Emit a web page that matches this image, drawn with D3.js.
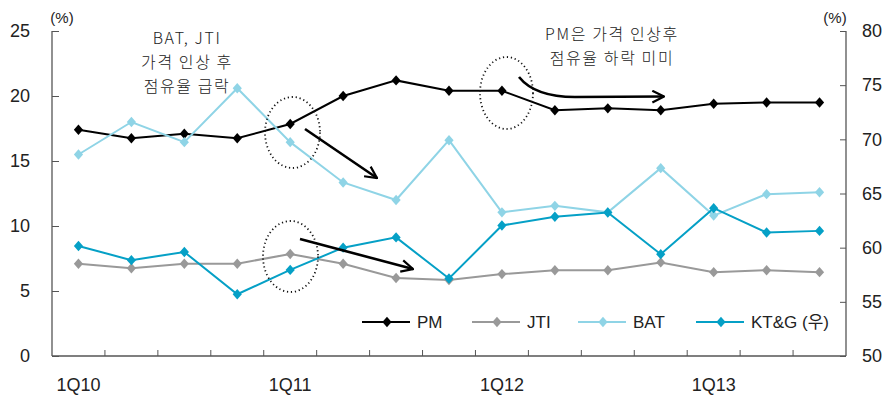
<!DOCTYPE html>
<html><head><meta charset="utf-8">
<script src="https://cdn.jsdelivr.net/npm/d3@7"></script>
<style>
body{margin:0;background:#fff;}
text{font-family:"Liberation Sans","Noto Sans CJK KR",Arial,sans-serif;fill:#222;}
</style></head>
<body><svg id="c" width="892" height="397"></svg>
<script>
const categories = ["1Q10","2Q10","3Q10","4Q10","1Q11","2Q11","3Q11","4Q11","1Q12","2Q12","3Q12","4Q12","1Q13","2Q13","3Q13"];
const tickLabels = ["1Q10","1Q11","1Q12","1Q13"];
const leftTicks = [0,5,10,15,20,25];
const rightTicks = [50,55,60,65,70,75,80];
const pm   = [17.4,16.75,17.1,16.75,17.85,20.0,21.2,20.4,20.4,18.9,19.05,18.9,19.4,19.5,19.5];
const jti  = [7.1,6.75,7.1,7.1,7.85,7.1,6.0,5.85,6.3,6.6,6.6,7.2,6.45,6.6,6.45];
const bat  = [15.5,18.0,16.45,20.6,16.45,13.35,12.0,16.6,11.05,11.55,11.05,14.45,10.8,12.45,12.6];
const ktg  = [60.15,58.85,59.6,55.7,57.95,60.0,60.95,57.15,62.05,62.85,63.25,59.4,63.65,61.4,61.55];
const seriesNames = ["PM","JTI","BAT","KT&G (우)"];
const seriesColors = ["#000000","#999999","#8fd4e6","#05a0c6"];

const svg = d3.select("#c");
const L = 52, R = 846, T = 31, B = 356;
const x = d3.scaleBand().domain(categories).range([L,R]).padding(0);
const yL = d3.scaleLinear().domain([0,25]).range([B,T]);
const yR = d3.scaleLinear().domain([50,80]).range([B,T]);
const cx = c => x(c) + x.bandwidth()/2;
const axisColor = "#555";

const gl = svg.append("g").attr("transform",`translate(${L},0)`)
  .call(d3.axisLeft(yL).tickValues(leftTicks).tickSize(-7).tickPadding(22).tickFormat(d3.format("d")));
const gr = svg.append("g").attr("transform",`translate(${R},0)`)
  .call(d3.axisRight(yR).tickValues(rightTicks).tickSize(-6).tickPadding(16).tickFormat(d3.format("d")));
const gb = svg.append("g").attr("transform",`translate(0,${B})`);
gb.append("line").attr("x1",L).attr("x2",R).attr("stroke",axisColor).attr("stroke-width",1.3);
gb.selectAll("line.t").data(categories.slice(1)).join("line").attr("class","t")
  .attr("x1",d=>x(d)).attr("x2",d=>x(d)).attr("y1",0).attr("y2",-6).attr("stroke",axisColor).attr("stroke-width",1);
gb.selectAll("text").data(tickLabels).join("text")
  .attr("x",d=>cx(d)).attr("y",35).attr("text-anchor","middle").style("font-size","18px").text(d=>d);

[gl,gr].forEach(g=>{
  g.select(".domain").attr("stroke",axisColor).attr("stroke-width",1.3).attr("d",`M0,${T}V${B}`);
  g.selectAll(".tick line").attr("stroke",axisColor).attr("stroke-width",1);
  g.selectAll(".tick text").style("font-size","18px").attr("fill","#222").style("font-family",'"Liberation Sans",Arial,sans-serif');
});
gl.selectAll(".tick text").attr("x",-22);

svg.append("text").attr("x",62).attr("y",23).attr("text-anchor","middle").style("font-size","15px").text("(%)");
svg.append("text").attr("x",835).attr("y",23).attr("text-anchor","middle").style("font-size","15px").text("(%)");

const diamond = "M0,-5.2L4.6,0L0,5.2L-4.6,0Z";
const series = [
  {vals:pm, y:yL},{vals:jti, y:yL},{vals:bat, y:yL},{vals:ktg, y:yR}
];
series.forEach((s,i)=>{
  const line = d3.line().x((d,j)=>cx(categories[j])).y(d=>s.y(d));
  svg.append("path").datum(s.vals).attr("d",line).attr("fill","none")
    .attr("stroke",seriesColors[i]).attr("stroke-width",2);
  svg.append("g").selectAll("path").data(s.vals).join("path")
    .attr("d",diamond).attr("fill",seriesColors[i])
    .attr("transform",(d,j)=>`translate(${cx(categories[j])},${s.y(d)})`);
});

const legX = [362,472,578,696], legY = 322;
seriesNames.forEach((n,i)=>{
  const g = svg.append("g").attr("transform",`translate(${legX[i]},${legY})`);
  g.append("line").attr("x1",0).attr("x2",48).attr("stroke",seriesColors[i]).attr("stroke-width",2);
  g.append("path").attr("d",diamond).attr("transform","translate(25,0)").attr("fill",seriesColors[i]);
  g.append("text").attr("x",55).attr("y",6).style("font-size","17px").text(n);
});

const annoFont = '"Noto Sans CJK KR","Liberation Sans",sans-serif';
function anno(t,xx,yy){
  svg.append("text").attr("x",xx).attr("y",yy).attr("text-anchor","middle")
    .style("font-size","16px").style("font-family",annoFont).style("font-weight","300")
    .style("letter-spacing","1.6px").attr("fill","#333").text(t);
}
[["BAT, JTI",44],["가격 인상 후",68],["점유율 급락",92]].forEach(([t,yy])=>anno(t,187,yy));
[["PM은 가격 인상후",40],["점유율 하락 미미",64]].forEach(([t,yy])=>anno(t,612,yy));

[[292.5,132.5,27.5,35.5],[290.5,256.5,27.5,35.5],[506.5,93,26.5,36]].forEach(([ex,ey,rx,ry])=>{
  svg.append("ellipse").attr("cx",ex).attr("cy",ey).attr("rx",rx).attr("ry",ry)
    .attr("fill","none").attr("stroke","#111").attr("stroke-width",1.8).attr("stroke-dasharray","1.2,2.8");
});

svg.append("defs").append("marker").attr("id","ah").attr("viewBox","0 0 12 12")
  .attr("refX",11).attr("refY",6).attr("markerWidth",14).attr("markerHeight",14)
  .attr("markerUnits","userSpaceOnUse").attr("orient","auto")
  .append("path").attr("d","M1,1L11,6L1,11").attr("fill","none").attr("stroke","#000").attr("stroke-width",1.9);
["M305,129L377,178","M300,239L413,269","M519,77Q535,97 575,97L664,96.5"].forEach(d=>{
  svg.append("path").attr("d",d).attr("fill","none").attr("stroke","#000").attr("stroke-width",2.6).attr("marker-end","url(#ah)");
});
</script></body></html>
